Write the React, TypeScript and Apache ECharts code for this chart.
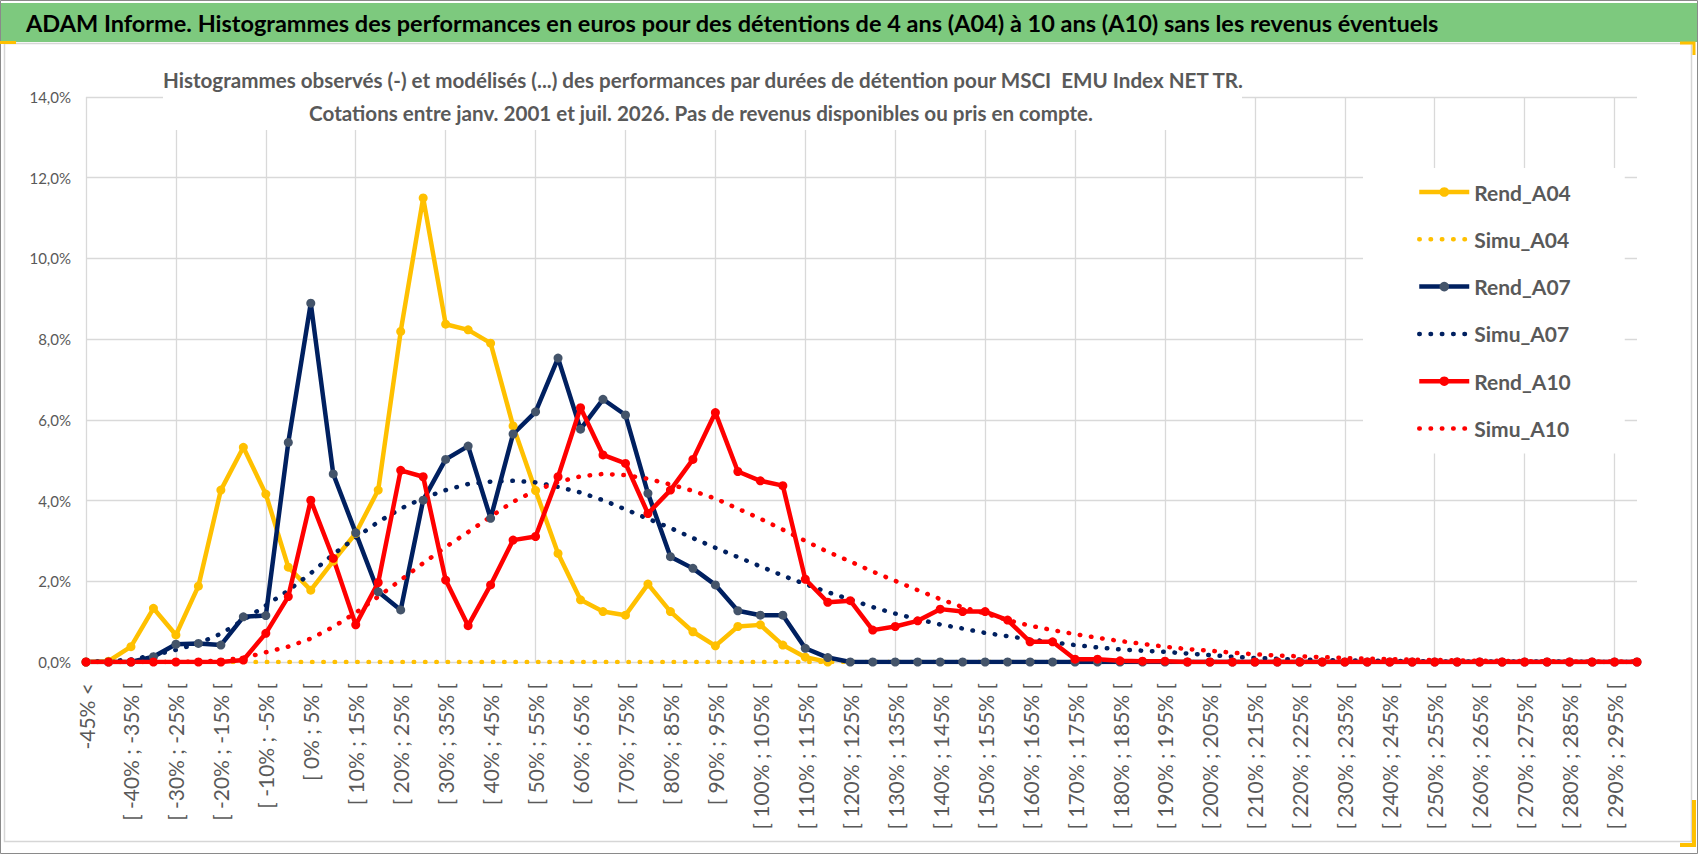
import React, { useEffect, useRef } from 'react';
import * as echarts from 'echarts';

// classes de performance (pas de 5%)
const categories = [
  '-45% <', '[ -45% ; -40% [', '[ -40% ; -35% [', '[ -35% ; -30% [', '[ -30% ; -25% [',
  '[ -25% ; -20% [', '[ -20% ; -15% [', '[ -15% ; -10% [', '[ -10% ; -5% [', '[ -5% ; 0% [',
  '[ 0% ; 5% [', '[ 5% ; 10% [', '[ 10% ; 15% [', '[ 15% ; 20% [', '[ 20% ; 25% [',
  '[ 25% ; 30% [', '[ 30% ; 35% [', '[ 35% ; 40% [', '[ 40% ; 45% [', '[ 45% ; 50% [',
  '[ 50% ; 55% [', '[ 55% ; 60% [', '[ 60% ; 65% [', '[ 65% ; 70% [', '[ 70% ; 75% [',
  '[ 75% ; 80% [', '[ 80% ; 85% [', '[ 85% ; 90% [', '[ 90% ; 95% [', '[ 95% ; 100% [',
  '[ 100% ; 105% [', '[ 105% ; 110% [', '[ 110% ; 115% [', '[ 115% ; 120% [', '[ 120% ; 125% [',
  '[ 125% ; 130% [', '[ 130% ; 135% [', '[ 135% ; 140% [', '[ 140% ; 145% [', '[ 145% ; 150% [',
  '[ 150% ; 155% [', '[ 155% ; 160% [', '[ 160% ; 165% [', '[ 165% ; 170% [', '[ 170% ; 175% [',
  '[ 175% ; 180% [', '[ 180% ; 185% [', '[ 185% ; 190% [', '[ 190% ; 195% [', '[ 195% ; 200% [',
  '[ 200% ; 205% [', '[ 205% ; 210% [', '[ 210% ; 215% [', '[ 215% ; 220% [', '[ 220% ; 225% [',
  '[ 225% ; 230% [', '[ 230% ; 235% [', '[ 235% ; 240% [', '[ 240% ; 245% [', '[ 245% ; 250% [',
  '[ 250% ; 255% [', '[ 255% ; 260% [', '[ 260% ; 265% [', '[ 265% ; 270% [', '[ 270% ; 275% [',
  '[ 275% ; 280% [', '[ 280% ; 285% [', '[ 285% ; 290% [', '[ 290% ; 295% [', '[ 295% ; 300% [',
];

// fréquences en %
const rendA04 = [
  0, 0.02, 0.38, 1.33, 0.67, 1.88, 4.26, 5.32, 4.16, 2.35,
  1.78, 2.5, 3.19, 4.26, 8.19, 11.5, 8.37, 8.23, 7.9, 5.85,
  4.25, 2.69, 1.54, 1.25, 1.16, 1.93, 1.25, 0.75, 0.4, 0.88,
  0.92, 0.42, 0.12, 0.0,
];

const simuA04 = [
  0, 0, 0, 0, 0, 0, 0, 0, 0, 0,
  0, 0, 0, 0, 0, 0, 0, 0, 0, 0,
  0, 0, 0, 0, 0, 0, 0, 0, 0, 0,
  0, 0, 0, 0, 0, 0, 0, 0, 0, 0,
  0, 0, 0, 0, 0, 0, 0, 0, 0, 0,
  0, 0, 0, 0, 0, 0, 0, 0, 0, 0,
  0, 0, 0, 0, 0, 0, 0, 0, 0, 0,
];

const rendA07 = [
  0, 0, 0, 0.13, 0.44, 0.46, 0.42, 1.12, 1.15, 5.44,
  8.89, 4.66, 3.2, 1.74, 1.29, 4.01, 5.02, 5.35, 3.56, 5.65,
  6.2, 7.53, 5.77, 6.51, 6.12, 4.18, 2.61, 2.32, 1.91, 1.27,
  1.16, 1.16, 0.34, 0.11, 0, 0, 0, 0, 0, 0,
  0, 0, 0, 0, 0, 0, 0, 0, 0, 0,
  0, 0, 0, 0, 0, 0, 0, 0, 0, 0,
  0, 0, 0, 0, 0, 0, 0, 0, 0, 0,
];

const simuA07 = [
  0, 0.02, 0.06, 0.17, 0.3, 0.46, 0.7, 1.04, 1.4, 1.77,
  2.2, 2.67, 3.08, 3.47, 3.8, 4.06, 4.26, 4.41, 4.47, 4.49,
  4.45, 4.34, 4.2, 4.01, 3.78, 3.55, 3.32, 3.07, 2.83, 2.6,
  2.37, 2.14, 1.93, 1.73, 1.55, 1.36, 1.2, 1.06, 0.93, 0.83,
  0.72, 0.64, 0.56, 0.49, 0.42, 0.36, 0.31, 0.28, 0.25, 0.21,
  0.17, 0.13, 0.1, 0.08, 0.06, 0.05, 0.04, 0.03, 0.03, 0.02,
  0.02, 0.01, 0.01, 0.01, 0.01, 0.01, 0.01, 0, 0, 0,
];

const rendA10 = [
  0, 0, 0, 0, 0, 0, 0, 0.05, 0.71, 1.62,
  4.01, 2.57, 0.92, 1.97, 4.75, 4.59, 2.03, 0.9, 1.91, 3.02,
  3.11, 4.59, 6.3, 5.13, 4.92, 3.68, 4.26, 5.02, 6.18, 4.72,
  4.49, 4.37, 2.05, 1.48, 1.52, 0.79, 0.88, 1.02, 1.31, 1.25,
  1.25, 1.04, 0.5, 0.5, 0.07, 0.07, 0.03, 0.02, 0.02, 0,
  0, 0, 0, 0, 0, 0, 0, 0, 0, 0,
  0, 0, 0, 0, 0, 0, 0, 0, 0, 0,
];

const simuA10 = [
  0, 0, 0, 0, 0, 0.01, 0.04, 0.1, 0.24, 0.38,
  0.58, 0.87, 1.22, 1.62, 2.03, 2.45, 2.85, 3.22, 3.6, 3.97,
  4.25, 4.46, 4.6, 4.66, 4.63, 4.54, 4.4, 4.24, 4.05, 3.8,
  3.55, 3.28, 3.0, 2.73, 2.49, 2.24, 2.01, 1.78, 1.56, 1.36,
  1.2, 1.04, 0.9, 0.79, 0.69, 0.6, 0.52, 0.45, 0.38, 0.32,
  0.28, 0.23, 0.19, 0.16, 0.14, 0.12, 0.1, 0.08, 0.07, 0.06,
  0.05, 0.04, 0.03, 0.03, 0.02, 0.02, 0.01, 0.01, 0.01, 0.01,
];

const FONT = 'Lato, "Noto Sans", sans-serif';
const GREY_TEXT = '#595959';
const GRID = '#d9d9d9';

const App: React.FC = () => {
  const chartRef = useRef<HTMLDivElement>(null);

  useEffect(() => {
    document.body.style.margin = '0';
    const chart = echarts.init(chartRef.current!, null, { renderer: 'svg' });

    const rend = (name: string, data: (number | null)[], color: string, marker: string) => ({
      name,
      type: 'line',
      data,
      symbol: 'circle',
      symbolSize: 9,
      showAllSymbol: true,
      lineStyle: { color, width: 4.5 },
      itemStyle: { color: marker },
    });

    const simu = (name: string, data: number[], color: string) => ({
      name,
      type: 'line',
      data,
      symbol: 'none',
      lineStyle: { color, width: 4.5, type: [0.5, 10.8], cap: 'round' },
      itemStyle: { color },
    });

    const legendText = { fontFamily: FONT, fontSize: 21, fontWeight: 'bold', color: GREY_TEXT };

    const option = {
      animation: false,
      grid: { left: 86, right: 61, top: 97, bottom: 192 },
      legend: {
        orient: 'vertical',
        left: 1363,
        top: 168,
        padding: [13, 54, 14, 54],
        backgroundColor: '#ffffff',
        itemWidth: 50,
        itemHeight: 12,
        itemGap: 25.3,
        lineStyle: { width: 4.5 },
        textStyle: { ...legendText, lineHeight: 22 },
        data: [
          { name: 'Rend_A04', textStyle: legendText },
          { name: 'Simu_A04', textStyle: legendText, itemStyle: { opacity: 0 } },
          { name: 'Rend_A07', textStyle: legendText },
          { name: 'Simu_A07', textStyle: legendText, itemStyle: { opacity: 0 } },
          { name: 'Rend_A10', textStyle: legendText },
          { name: 'Simu_A10', textStyle: legendText, itemStyle: { opacity: 0 } },
        ],
      },
      xAxis: {
        type: 'category',
        data: categories,
        boundaryGap: false,
        axisLine: { show: true, lineStyle: { color: GRID } },
        axisTick: { show: false },
        axisLabel: { interval: 1, rotate: 90, margin: 21, fontFamily: FONT, fontSize: 21, color: GREY_TEXT },
        splitLine: { show: true, interval: 3, lineStyle: { color: GRID, width: 1.3 } },
      },
      yAxis: {
        type: 'value',
        min: 0,
        max: 14,
        interval: 2,
        axisLine: { show: false },
        axisTick: { show: false },
        axisLabel: {
          margin: 15,
          fontFamily: FONT,
          fontSize: 15,
          color: GREY_TEXT,
          formatter: (v: number) => v.toFixed(1).replace('.', ',') + '%',
        },
        splitLine: { lineStyle: { color: GRID, width: 1.3 } },
      },
      graphic: [
        // cadre et bandeau
        { type: 'rect', z: 20, shape: { x: 0.5, y: 0.5, width: 1697, height: 853 }, style: { fill: 'none', stroke: '#8a8a8a', lineWidth: 1 } },
        { type: 'rect', z: 20, shape: { x: 1, y: 3, width: 1696, height: 39 }, style: { fill: '#7dc97e' } },
        { type: 'rect', z: 20, shape: { x: 4.5, y: 43.5, width: 1687, height: 798 }, style: { fill: 'none', stroke: '#d6d6d6', lineWidth: 1.5 } },
        { type: 'rect', z: 21, shape: { x: 0, y: 41, width: 16, height: 3 }, style: { fill: '#ffc000' } },
        { type: 'polyline', z: 21, shape: { points: [[1680, 43], [1694, 43], [1694, 55]] }, style: { fill: 'none', stroke: '#ffc000', lineWidth: 3 } },
        { type: 'polyline', z: 21, shape: { points: [[1694, 800], [1694, 845], [1680, 845]] }, style: { fill: 'none', stroke: '#ffc000', lineWidth: 4 } },
        {
          type: 'text', z: 22, x: 26, y: 23,
          style: {
            text: 'ADAM Informe. Histogrammes des performances en euros pour des détentions de 4 ans (A04) à 10 ans (A10) sans les revenus éventuels',
            fontFamily: FONT, fontSize: 23.5, fontWeight: 'bold', fill: '#000000', verticalAlign: 'middle',
          },
        },
        // sous-titre
        { type: 'rect', z: 20, shape: { x: 163, y: 60, width: 1079, height: 70 }, style: { fill: '#ffffff' } },
        {
          type: 'text', z: 22, x: 703, y: 80,
          style: {
            text: 'Histogrammes observés (-) et modélisés (...) des performances par durées de détention pour MSCI  EMU Index NET TR.',
            fontFamily: FONT, fontSize: 20.6, fontWeight: 'bold', fill: GREY_TEXT, align: 'center', verticalAlign: 'middle',
          },
        },
        {
          type: 'text', z: 22, x: 701, y: 113,
          style: {
            text: 'Cotations entre janv. 2001 et juil. 2026. Pas de revenus disponibles ou pris en compte.',
            fontFamily: FONT, fontSize: 20.6, fontWeight: 'bold', fill: GREY_TEXT, align: 'center', verticalAlign: 'middle',
          },
        },
      ],
      series: [
        rend('Rend_A04', rendA04, '#ffc000', '#ffc000'),
        simu('Simu_A04', simuA04, '#ffc000'),
        rend('Rend_A07', rendA07, '#002060', '#44546a'),
        simu('Simu_A07', simuA07, '#002060'),
        rend('Rend_A10', rendA10, '#ff0000', '#ff0000'),
        simu('Simu_A10', simuA10, '#ff0000'),
      ],
    };

    chart.setOption(option);

    return () => {
      chart.dispose();
    };
  }, []);

  return <div ref={chartRef} style={{ width: 1698, height: 854 }} />;
};

export default App;
